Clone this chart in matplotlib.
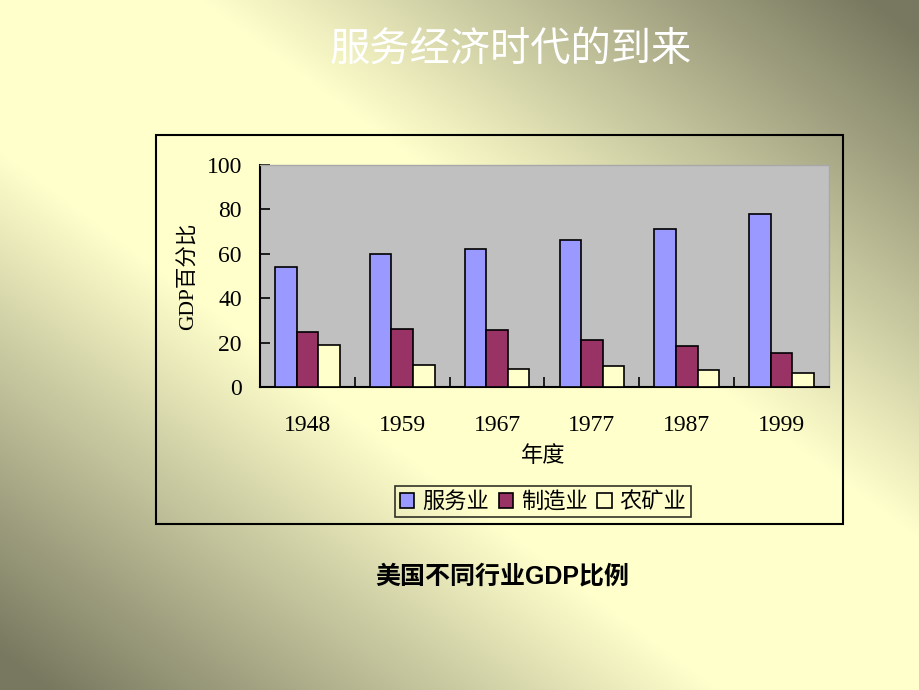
import matplotlib.pyplot as plt
import matplotlib.patches as patches
import numpy as np

# 数据 (美国不同行业GDP比例, %)
years = ['1948', '1959', '1967', '1977', '1987', '1999']
fuwu = [54, 60, 62, 66, 71, 78]
zhizao = [25, 26, 25.5, 21, 18.5, 15.3]
nongkuang = [19, 10, 8, 9.3, 7.5, 6.2]
series_names = ['服务业', '制造业', '农矿业']
series_colors = ['#9999FF', '#993366', '#FFFFCC']

W, H = 920, 690
fig = plt.figure(figsize=(W / 100, H / 100), dpi=100)

# 背景渐变 (左上/右下浅, 右上/左下深)
bg = fig.add_axes([0, 0, 1, 1])
xx, yy = np.meshgrid(np.linspace(0, 1, 460), np.linspace(0, 1, 345))
d = np.abs(xx - yy)
t = np.clip((d - 0.22) / 0.73, 0, 1)
light = np.array([255, 255, 204]) / 255
dark = np.array([120, 120, 96]) / 255
img = light[None, None, :] * (1 - t[..., None]) + dark[None, None, :] * t[..., None]
bg.imshow(img, extent=[0, 1, 0, 1], aspect='auto', origin='upper')
bg.axis('off')

def fx(px):
    return px / W

def fy(py):
    return 1 - py / H

# 图表外框
frame = patches.Rectangle((fx(156), fy(524)), fx(843) - fx(156), fy(135) - fy(524),
                          transform=fig.transFigure, fill=False, edgecolor='black', lw=1.5)
fig.patches.append(frame)

ax = fig.add_axes([fx(260), fy(387), fx(829) - fx(260), fy(165) - fy(387)])
ax.set_facecolor('#C0C0C0')

x = np.arange(len(years)) + 0.5
w = 0.227
for i, vals in enumerate([fuwu, zhizao, nongkuang]):
    ax.bar(x + (i - 1) * w, vals, w, color=series_colors[i], edgecolor='black',
           lw=1.2, label=series_names[i], zorder=3)

ax.set_xlim(0, len(years))
ax.set_ylim(0, 100)
ax.set_yticks([0, 20, 40, 60, 80, 100])
ax.set_xticks(np.arange(1, len(years)))
ax.set_xticklabels([])
ax.set_xticks(x, minor=True)
ax.set_xticklabels(years, minor=True, family='Liberation Serif', fontsize=17)
ax.tick_params(axis='x', which='major', direction='in', length=7, width=1.2)
ax.tick_params(axis='x', which='minor', length=0, pad=20)
ax.tick_params(axis='y', direction='in', length=7, width=1.2, pad=13, labelsize=17)
for lab in ax.get_yticklabels():
    lab.set_family('Liberation Serif')

for s in ['left', 'bottom']:
    ax.spines[s].set_color('black')
    ax.spines[s].set_linewidth(1.5)
for s in ['top', 'right']:
    ax.spines[s].set_color('#A8A8A8')
    ax.spines[s].set_linewidth(1.0)

fig.text(fx(189), fy(276), 'GDP百分比', rotation=90, ha='center', va='center',
         fontsize=15.5, family=['Liberation Serif', 'Noto Sans CJK SC'])
fig.text(fx(543), fy(456), '年度', ha='center', va='center', fontsize=16,
         family=['Noto Sans CJK SC'])

leg = fig.legend(loc='center', bbox_to_anchor=(fx(543), fy(501.5)), ncol=3,
                 prop={'family': 'Noto Sans CJK SC', 'size': 16},
                 frameon=True, fancybox=False, handlelength=0.65, handleheight=0.65,
                 handletextpad=0.35, columnspacing=0.45, borderpad=0.2,
                 borderaxespad=0)
leg.get_frame().set_edgecolor('black')
leg.get_frame().set_facecolor('none')
leg.get_frame().set_linewidth(1.2)

fig.text(fx(511), fy(49), '服务经济时代的到来', ha='center', va='center', color='white',
         fontsize=29, family=['Noto Sans CJK SC'])
fig.text(fx(502), fy(576), '美国不同行业GDP比例', ha='center', va='center', color='black',
         fontsize=18, fontweight='bold', family=['Liberation Sans', 'Noto Sans CJK SC'])

fig.savefig('out.png', dpi=100)
